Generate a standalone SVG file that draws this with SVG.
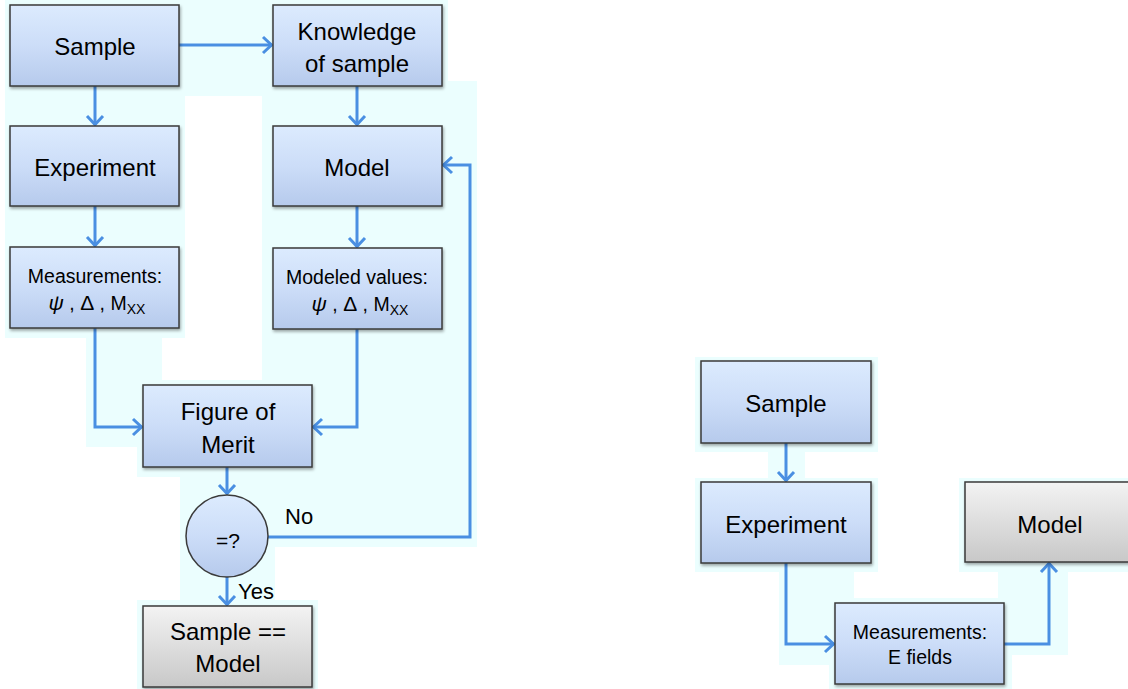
<svg xmlns="http://www.w3.org/2000/svg" width="1128" height="689" viewBox="0 0 1128 689">
<style>
.bg{fill:#EBFEFE}
.box{fill:url(#gb);stroke:#3a3a3a;stroke-width:1.5;filter:url(#sh)}
.gbox{fill:url(#gg);stroke:#3a3a3a;stroke-width:1.5;filter:url(#sh)}
.t{font-family:"Liberation Sans",Arial,sans-serif;fill:#000;text-anchor:middle}
.big{font-size:24px}
.sm{font-size:19.5px}
.lbl{font-size:22px;font-family:"Liberation Sans",Arial,sans-serif;fill:#000}
.c{fill:none;stroke:#4A8FE2;stroke-width:3;marker-end:url(#ah)}
.psi{font-style:italic;font-size:21px}
</style>
<defs>
<linearGradient id="gb" x1="0" y1="0" x2="0" y2="1">
<stop offset="0" stop-color="#DCEBFE"/>
<stop offset="0.5" stop-color="#CCDDF8"/>
<stop offset="1" stop-color="#B6CAEC"/>
</linearGradient>
<linearGradient id="gg" x1="0" y1="0" x2="0" y2="1">
<stop offset="0" stop-color="#F3F3F3"/>
<stop offset="1" stop-color="#C8C8C8"/>
</linearGradient>
<filter id="sh" x="-10%" y="-10%" width="120%" height="130%">
<feDropShadow dx="1" dy="2" stdDeviation="1.5" flood-color="#000" flood-opacity="0.35"/>
</filter>
<marker id="ah" markerUnits="userSpaceOnUse" markerWidth="14" markerHeight="20" viewBox="0 0 14 20" refX="12" refY="10" orient="auto">
<path d="M3,2 L11.5,10 L3,18" fill="none" stroke="#4A8FE2" stroke-width="3" stroke-linejoin="miter"/>
</marker>
</defs>
<g id="background">
<rect class="bg" x="5" y="0" width="443" height="96"/>
<rect class="bg" x="5" y="0" width="180" height="338"/>
<rect class="bg" x="86" y="336" width="76" height="111"/>
<rect class="bg" x="262" y="81" width="215" height="466"/>
<rect class="bg" x="137" y="380" width="181" height="97"/>
<rect class="bg" x="180" y="477" width="95" height="125"/>
<rect class="bg" x="137" y="600" width="181" height="89"/>
<rect class="bg" x="695" y="357" width="183" height="95"/>
<rect class="bg" x="768" y="451" width="37" height="28"/>
<rect class="bg" x="695" y="478" width="183" height="94"/>
<rect class="bg" x="959" y="478" width="169" height="94"/>
<rect class="bg" x="779" y="572" width="75" height="93"/>
<rect class="bg" x="829" y="598" width="183" height="91"/>
<rect class="bg" x="998" y="572" width="70" height="83"/>
</g>
<g id="connectors">
<path class="c" d="M179,45 H272"/>
<path class="c" d="M95,86 V125"/>
<path class="c" d="M357,86 V125"/>
<path class="c" d="M95,206 V246"/>
<path class="c" d="M357,206 V247"/>
<path class="c" d="M95,328 V427 H142"/>
<path class="c" d="M357,329 V427 H313"/>
<path class="c" d="M227,467 V494"/>
<path class="c" d="M268,537 H470 V165 H443"/>
<path class="c" d="M227,577 V605"/>
<path class="c" d="M786,443 V481"/>
<path class="c" d="M786,563 V644 H834"/>
<path class="c" d="M1004,644 H1049 V563"/>
</g>
<g id="sample">
<rect class="box" x="10" y="5" width="169" height="81"/>
<text class="t big" x="95" y="55">Sample</text>
</g>
<g id="knowledge">
<rect class="box" x="273" y="5" width="169" height="81"/>
<text class="t big" x="357" y="40">Knowledge</text>
<text class="t big" x="357" y="72">of sample</text>
</g>
<g id="experiment">
<rect class="box" x="10" y="126" width="169" height="80"/>
<text class="t big" x="95" y="176">Experiment</text>
</g>
<g id="model">
<rect class="box" x="273" y="126" width="169" height="80"/>
<text class="t big" x="357" y="176">Model</text>
</g>
<g id="measurements">
<rect class="box" x="10" y="247" width="169" height="81"/>
<text class="t sm" x="95" y="283">Measurements:</text>
<text class="t sm" x="97" y="310"><tspan class="psi">ψ</tspan> ,  <tspan font-size="21">Δ</tspan> , M<tspan font-size="14" dy="4">XX</tspan></text>
</g>
<g id="modeled">
<rect class="box" x="273" y="248" width="169" height="81"/>
<text class="t sm" x="357" y="284">Modeled values:</text>
<text class="t sm" x="360" y="311"><tspan class="psi">ψ</tspan> ,  <tspan font-size="21">Δ</tspan> , M<tspan font-size="14" dy="4">XX</tspan></text>
</g>
<g id="figure-of-merit">
<rect class="box" x="143" y="385" width="169" height="82"/>
<text class="t big" x="228" y="420">Figure of</text>
<text class="t big" x="228" y="453">Merit</text>
</g>
<g id="decision">
<circle cx="227" cy="536" r="41" fill="url(#gb)" stroke="#3a3a3a" stroke-width="1.5"/>
<text class="t" x="228" y="548" font-size="21">=?</text>
</g>
<g id="labels">
<text class="lbl" x="285" y="524">No</text>
<text class="lbl" x="238" y="599">Yes</text>
</g>
<g id="sample-equals-model">
<rect class="gbox" x="143" y="606" width="169" height="81"/>
<text class="t big" x="228" y="640">Sample ==</text>
<text class="t big" x="228" y="672">Model</text>
</g>
<g id="r-sample">
<rect class="box" x="701" y="361" width="170" height="82"/>
<text class="t big" x="786" y="412">Sample</text>
</g>
<g id="r-experiment">
<rect class="box" x="701" y="482" width="170" height="81"/>
<text class="t big" x="786" y="533">Experiment</text>
</g>
<g id="r-model">
<rect class="gbox" x="965" y="482" width="170" height="80"/>
<text class="t big" x="1050" y="533">Model</text>
</g>
<g id="r-measurements">
<rect class="box" x="835" y="603" width="169" height="81"/>
<text class="t sm" x="920" y="639">Measurements:</text>
<text class="t sm" x="920" y="664">E fields</text>
</g>
</svg>
